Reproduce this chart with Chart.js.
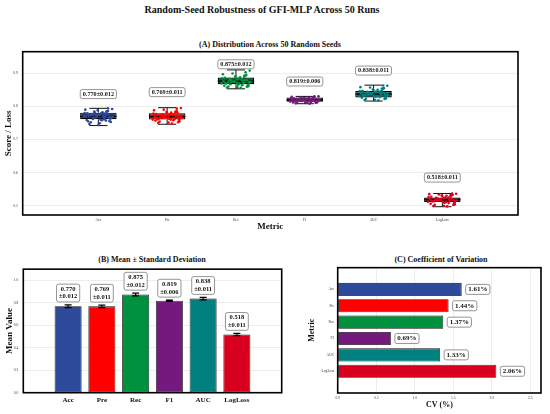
<!DOCTYPE html>
<html>
<head>
<meta charset="utf-8">
<script src="https://cdn.jsdelivr.net/npm/chart.js@4.4.0/dist/chart.umd.min.js"></script>
<style>
  body { margin: 0; width: 550px; height: 414px; background: #fff; position: relative; overflow: hidden; font-family: "Liberation Serif", serif; }
  .ttl { position: absolute; font-weight: bold; white-space: nowrap; transform: translate(-50%, -50%); color: #111; }
  canvas { position: absolute; }
</style>
</head>
<body>
<div class="ttl" style="left:262px; top:9px; font-size:10px">Random-Seed Robustness of GFI-MLP Across 50 Runs</div>
<div class="ttl" style="left:270px; top:44px; font-size:8px">(A) Distribution Across 50 Random Seeds</div>
<div class="ttl" style="left:152px; top:259px; font-size:8px">(B) Mean ± Standard Deviation</div>
<div class="ttl" style="left:441px; top:259px; font-size:8px">(C) Coefficient of Variation</div>
<canvas id="boxChart" width="550" height="200" style="left:0; top:40px"></canvas>
<canvas id="meanChart" width="300" height="152" style="left:0; top:262px"></canvas>
<canvas id="cvChart" width="250" height="152" style="left:300px; top:262px"></canvas>
<script>
// metrics and summary values
const metrics = ["Acc", "Pre", "Rec", "F1", "AUC", "LogLoss"];
const means = [0.770, 0.769, 0.875, 0.819, 0.838, 0.518];
const stds = [0.012, 0.011, 0.012, 0.006, 0.011, 0.011];
const cvs = [1.61, 1.44, 1.37, 0.69, 1.33, 2.06];

// box plot stats
const whiskLo = [0.742, 0.746, 0.853, 0.808, 0.816, 0.497];
const boxQ1 = [0.761, 0.760, 0.867, 0.814, 0.827, 0.511];
const boxMed = [0.770, 0.769, 0.876, 0.819, 0.837, 0.518];
const boxQ3 = [0.781, 0.779, 0.887, 0.827, 0.846, 0.525];
const whiskHi = [0.794, 0.796, 0.910, 0.830, 0.864, 0.537];
const labelY = [0.837, 0.843, 0.927, 0.875, 0.908, 0.585];

// seed results, 50 runs each (estimated from the strip points)
const seedAcc = [0.771, 0.758, 0.783, 0.766, 0.792, 0.775, 0.749, 0.768, 0.780, 0.762, 0.773, 0.786, 0.755, 0.770, 0.777, 0.764, 0.744, 0.781, 0.769, 0.759, 0.775, 0.788, 0.767, 0.752, 0.779, 0.772, 0.761, 0.784, 0.765, 0.774,
  0.776, 0.763, 0.790, 0.757, 0.771, 0.782, 0.747, 0.768, 0.779, 0.760, 0.785, 0.773, 0.753, 0.766, 0.778, 0.770, 0.794, 0.762, 0.774, 0.756];
const seedPre = [0.768, 0.760, 0.781, 0.775, 0.795, 0.763, 0.751, 0.770, 0.778, 0.758, 0.772, 0.785, 0.766, 0.748, 0.774, 0.762, 0.779, 0.790, 0.765, 0.757, 0.771, 0.783, 0.769, 0.754, 0.776, 0.761, 0.773, 0.767, 0.780, 0.764,
  0.773, 0.759, 0.788, 0.762, 0.770, 0.781, 0.750, 0.766, 0.777, 0.763, 0.784, 0.771, 0.755, 0.768, 0.775, 0.760, 0.793, 0.765, 0.772, 0.752];
const seedRec = [0.876, 0.868, 0.889, 0.881, 0.908, 0.872, 0.858, 0.879, 0.885, 0.864, 0.874, 0.893, 0.870, 0.856, 0.883, 0.866, 0.887, 0.899, 0.877, 0.862, 0.878, 0.891, 0.873, 0.860, 0.884, 0.869, 0.880, 0.875, 0.895, 0.871,
  0.879, 0.863, 0.897, 0.870, 0.876, 0.888, 0.857, 0.873, 0.886, 0.865, 0.892, 0.878, 0.861, 0.874, 0.882, 0.869, 0.903, 0.867, 0.881, 0.859];
const seedF1 = [0.820, 0.815, 0.826, 0.818, 0.830, 0.822, 0.810, 0.817, 0.824, 0.813, 0.819, 0.828, 0.816, 0.808, 0.823, 0.814, 0.821, 0.827, 0.818, 0.812, 0.820, 0.825, 0.817, 0.811, 0.822, 0.816, 0.819, 0.823, 0.815, 0.821,
  0.821, 0.813, 0.829, 0.817, 0.820, 0.826, 0.809, 0.818, 0.824, 0.814, 0.827, 0.819, 0.812, 0.816, 0.822, 0.815, 0.830, 0.817, 0.823, 0.811];
const seedAUC = [0.839, 0.831, 0.848, 0.842, 0.862, 0.834, 0.820, 0.837, 0.846, 0.828, 0.840, 0.853, 0.835, 0.818, 0.844, 0.830, 0.849, 0.857, 0.838, 0.826, 0.841, 0.851, 0.836, 0.823, 0.845, 0.833, 0.843, 0.838, 0.855, 0.832,
  0.842, 0.827, 0.858, 0.834, 0.839, 0.850, 0.819, 0.836, 0.847, 0.829, 0.854, 0.840, 0.824, 0.837, 0.845, 0.831, 0.863, 0.835, 0.843, 0.822];
const seedLogLoss = [0.519, 0.511, 0.528, 0.522, 0.536, 0.514, 0.500, 0.517, 0.526, 0.508, 0.520, 0.532, 0.515, 0.498, 0.524, 0.510, 0.529, 0.534, 0.518, 0.506, 0.521, 0.531, 0.516, 0.503, 0.525, 0.513, 0.523, 0.518, 0.533, 0.512,
  0.521, 0.507, 0.535, 0.514, 0.519, 0.530, 0.499, 0.516, 0.527, 0.509, 0.532, 0.520, 0.504, 0.517, 0.525, 0.512, 0.537, 0.515, 0.523, 0.502];
const stripJitter = [-0.18, 0.05, 0.12, -0.07, 0.20, -0.12, 0.02, 0.16, -0.20, 0.09, -0.03, 0.14, -0.15, 0.07, -0.09, 0.18, 0.00, -0.05, 0.10, -0.17, 0.13, -0.01, 0.19, -0.11, 0.04, -0.14, 0.08, -0.06, 0.15, 0.01,
  -0.08, 0.17, -0.19, 0.11, -0.02, 0.06, -0.13, 0.21, -0.16, 0.03, 0.12, -0.10, 0.18, -0.04, 0.09, -0.21, 0.14, -0.08, 0.02, 0.16];

// tick values
const boxTicks = [0.5, 0.6, 0.7, 0.8, 0.9];
const meanTicks = [0.0, 0.2, 0.4, 0.6, 0.8, 1.0];
const cvTicks = [0.0, 0.5, 1.0, 1.5, 2.0, 2.5];

const baseColors = ["#2e4a9b", "#ff0000", "#00913f", "#741a7e", "#00807f", "#d8001f"];
const darkColors = ["#27396f", "#d40000", "#0b5c35", "#40123f", "#0b5a59", "#7c0a17"];
const FONT = "'Liberation Serif', serif";

const seedSets = [seedAcc, seedPre, seedRec, seedF1, seedAUC, seedLogLoss];
const stripPoints = [];
seedSets.forEach((set, i) => set.forEach((v, k) => stripPoints.push({ x: i + stripJitter[k], y: v, m: i })));

const framePlugin = {
  id: "frame",
  afterDraw(chart) {
    const { ctx, chartArea: a } = chart;
    ctx.save();
    ctx.strokeStyle = "#000";
    ctx.lineWidth = 1.6;
    ctx.strokeRect(a.left, a.top, a.right - a.left, a.bottom - a.top);
    ctx.restore();
  }
};

function tag(ctx, lines, cx, cy, size, lineH, padX, padY) {
  ctx.save();
  ctx.font = "bold " + size + "px " + FONT;
  const w = Math.max(...lines.map(l => ctx.measureText(l).width)) + padX * 2;
  const h = lines.length * lineH + padY * 2;
  ctx.beginPath();
  ctx.roundRect(cx - w / 2, cy - h / 2, w, h, 2);
  ctx.fillStyle = "rgba(255,255,255,0.95)";
  ctx.fill();
  ctx.strokeStyle = "#7a7a7a";
  ctx.lineWidth = 0.8;
  ctx.stroke();
  ctx.fillStyle = "#111";
  ctx.textAlign = "center";
  ctx.textBaseline = "middle";
  lines.forEach((l, j) => ctx.fillText(l, cx, cy - h / 2 + padY + lineH * (j + 0.5)));
  ctx.restore();
  return w;
}

const boxExtras = {
  id: "boxExtras",
  beforeDatasetsDraw(chart) {
    const { ctx, scales: { x, y } } = chart;
    const bars = chart.getDatasetMeta(1).data;
    ctx.save();
    ctx.strokeStyle = "#111";
    ctx.lineWidth = 1;
    metrics.forEach((m, i) => {
      const cx = x.getPixelForValue(i);
      const half = bars[i].width / 4;
      ctx.beginPath();
      ctx.moveTo(cx, y.getPixelForValue(boxQ3[i])); ctx.lineTo(cx, y.getPixelForValue(whiskHi[i]));
      ctx.moveTo(cx, y.getPixelForValue(boxQ1[i])); ctx.lineTo(cx, y.getPixelForValue(whiskLo[i]));
      ctx.moveTo(cx - half, y.getPixelForValue(whiskHi[i])); ctx.lineTo(cx + half, y.getPixelForValue(whiskHi[i]));
      ctx.moveTo(cx - half, y.getPixelForValue(whiskLo[i])); ctx.lineTo(cx + half, y.getPixelForValue(whiskLo[i]));
      ctx.stroke();
    });
    ctx.restore();
  },
  afterDatasetDraw(chart, args) {
    if (args.index !== 1) return;
    const { ctx, scales: { x, y } } = chart;
    const bars = chart.getDatasetMeta(1).data;
    ctx.save();
    ctx.strokeStyle = "#000";
    ctx.lineWidth = 1.2;
    metrics.forEach((m, i) => {
      const cx = x.getPixelForValue(i);
      const half = bars[i].width / 2;
      const py = y.getPixelForValue(boxMed[i]);
      ctx.beginPath(); ctx.moveTo(cx - half, py); ctx.lineTo(cx + half, py); ctx.stroke();
    });
    ctx.restore();
  },
  afterDatasetsDraw(chart) {
    const { ctx, scales: { x, y } } = chart;
    metrics.forEach((m, i) => {
      tag(ctx, [means[i].toFixed(3) + "±" + stds[i].toFixed(3)], x.getPixelForValue(i), y.getPixelForValue(labelY[i]), 6.2, 7, 2.5, 1);
    });
  }
};

const meanExtras = {
  id: "meanExtras",
  afterDatasetsDraw(chart) {
    const { ctx, scales: { x, y } } = chart;
    ctx.save();
    ctx.strokeStyle = "#000";
    ctx.lineWidth = 1.2;
    metrics.forEach((m, i) => {
      const cx = x.getPixelForValue(i);
      const top = y.getPixelForValue(means[i] + stds[i]);
      const bot = y.getPixelForValue(means[i] - stds[i]);
      ctx.beginPath();
      ctx.moveTo(cx, top); ctx.lineTo(cx, bot);
      ctx.moveTo(cx - 3.5, top); ctx.lineTo(cx + 3.5, top);
      ctx.moveTo(cx - 3.5, bot); ctx.lineTo(cx + 3.5, bot);
      ctx.stroke();
    });
    ctx.restore();
    metrics.forEach((m, i) => {
      const top = y.getPixelForValue(means[i] + stds[i]);
      tag(ctx, [means[i].toFixed(3), "±" + stds[i].toFixed(3)], x.getPixelForValue(i), top - 3 - 8.85, 6.5, 7.5, 2.5, 1.4);
    });
  }
};

const cvExtras = {
  id: "cvExtras",
  afterDatasetsDraw(chart) {
    const { ctx, scales: { x, y } } = chart;
    ctx.save();
    ctx.font = "bold 7px " + FONT;
    metrics.forEach((m, i) => {
      const label = cvs[i].toFixed(2) + "%";
      const w = ctx.measureText(label).width + 5;
      tag(ctx, [label], x.getPixelForValue(cvs[i]) + 4 + w / 2, y.getPixelForValue(i), 7, 8, 2.5, 1);
    });
    ctx.restore();
  }
};

const tinyTicks = { family: FONT, size: 3.6 };
const noTooltip = { legend: { display: false }, tooltip: { enabled: false } };

new Chart(document.getElementById("boxChart"), {
  type: "bar",
  data: {
    datasets: [
      { type: "scatter", order: 0, data: stripPoints, pointRadius: 1.3, pointBorderWidth: 0,
        pointBackgroundColor: c => baseColors[c.raw.m] },
      { type: "bar", order: 1, data: metrics.map((m, i) => ({ x: i, y: [boxQ1[i], boxQ3[i]] })),
        backgroundColor: darkColors, borderColor: "#000", borderWidth: 1.2, borderSkipped: false,
        barPercentage: 0.53, categoryPercentage: 1 }
    ]
  },
  options: {
    responsive: false, animation: false,
    layout: { padding: { top: 11.7, right: 32, left: 0, bottom: 0 } },
    plugins: noTooltip,
    scales: {
      x: { type: "linear", min: -0.5, max: 5.5,
        afterBuildTicks: s => { s.ticks = metrics.map((m, i) => ({ value: i })); },
        afterFit: s => { s.height = 25; },
        ticks: { callback: v => metrics[v], font: tinyTicks, color: "#333", padding: 3 },
        grid: { display: false, drawTicks: false }, border: { display: false },
        title: { display: true, text: "Metric", color: "#111", font: { family: FONT, size: 9, weight: "bold" }, padding: { top: 0, bottom: 7.6 } } },
      y: { min: 0.472, max: 0.965,
        afterBuildTicks: s => { s.ticks = boxTicks.map(v => ({ value: v })); },
        afterFit: s => { s.width = 22.7; },
        ticks: { callback: v => v.toFixed(1), font: tinyTicks, color: "#333", padding: 5 },
        grid: { color: "rgba(0,0,0,0.07)", drawTicks: false }, border: { display: false },
        title: { display: true, text: "Score / Loss", color: "#111", font: { family: FONT, size: 9, weight: "bold" }, padding: { top: 3.6, bottom: 0 } } }
    }
  },
  plugins: [framePlugin, boxExtras]
});

new Chart(document.getElementById("meanChart"), {
  type: "bar",
  data: {
    datasets: [{ data: metrics.map((m, i) => ({ x: i, y: means[i] })), backgroundColor: baseColors,
      borderColor: "#111", borderWidth: 0.8, borderSkipped: false, barPercentage: 0.8, categoryPercentage: 1 }]
  },
  options: {
    responsive: false, animation: false,
    layout: { padding: { top: 5, right: 18.3, left: 0, bottom: 0 } },
    plugins: noTooltip,
    scales: {
      x: { type: "linear", min: -0.69, max: 5.69,
        afterBuildTicks: s => { s.ticks = metrics.map((m, i) => ({ value: i })); },
        afterFit: s => { s.height = 21.3; },
        ticks: { callback: v => metrics[v], font: { family: FONT, size: 7, weight: "bold" }, color: "#111", padding: 3 },
        grid: { display: false, drawTicks: false }, border: { display: false } },
      y: { min: 0, max: 1.1,
        afterBuildTicks: s => { s.ticks = meanTicks.map(v => ({ value: v })); },
        afterFit: s => { s.width = 23.3; },
        ticks: { callback: v => v.toFixed(1), font: tinyTicks, color: "#333", padding: 5 },
        grid: { color: "rgba(0,0,0,0.07)", drawTicks: false }, border: { display: false },
        title: { display: true, text: "Mean Value", color: "#111", font: { family: FONT, size: 9, weight: "bold" }, padding: { top: 3.9, bottom: 0 } } }
    }
  },
  plugins: [framePlugin, meanExtras]
});

new Chart(document.getElementById("cvChart"), {
  type: "bar",
  data: {
    datasets: [{ data: metrics.map((m, i) => ({ x: cvs[i], y: i })), backgroundColor: baseColors,
      borderColor: "#111", borderWidth: 0.8, borderSkipped: false, barPercentage: 0.8, categoryPercentage: 1 }]
  },
  options: {
    indexAxis: "y",
    responsive: false, animation: false,
    layout: { padding: { top: 5, right: 9, left: 0, bottom: 0 } },
    plugins: noTooltip,
    scales: {
      x: { type: "linear", min: 0, max: 2.64,
        afterBuildTicks: s => { s.ticks = cvTicks.map(v => ({ value: v })); },
        afterFit: s => { s.height = 21; },
        ticks: { callback: v => v.toFixed(1), font: tinyTicks, color: "#333", padding: 2.5 },
        grid: { color: "rgba(0,0,0,0.07)", drawTicks: false }, border: { display: false },
        title: { display: true, text: "CV (%)", color: "#111", font: { family: FONT, size: 8, weight: "bold" }, padding: { top: 0, bottom: 4.2 } } },
      y: { type: "linear", min: -0.69, max: 5.69, reverse: true,
        afterBuildTicks: s => { s.ticks = metrics.map((m, i) => ({ value: i })); },
        afterFit: s => { s.width = 37.7; },
        ticks: { callback: v => metrics[v], font: tinyTicks, color: "#333", padding: 3.5 },
        grid: { display: false, drawTicks: false }, border: { display: false },
        title: { display: true, text: "Metric", color: "#111", font: { family: FONT, size: 8, weight: "bold" }, padding: { top: 7.2, bottom: 0 } } }
    }
  },
  plugins: [framePlugin, cvExtras]
});
</script>
</body>
</html>
